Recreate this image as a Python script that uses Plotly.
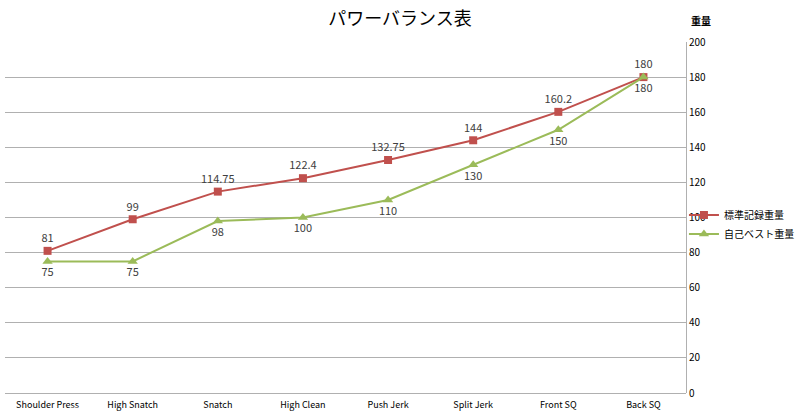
import plotly.graph_objects as go

categories = ["Shoulder Press", "High Snatch", "Snatch", "High Clean", "Push Jerk", "Split Jerk", "Front SQ", "Back SQ"]
standard = [81, 99, 114.75, 122.4, 132.75, 144, 160.2, 180]
personal = [75, 75, 98, 100, 110, 130, 150, 180]
standard_name = "標準記録重量"
personal_name = "自己ベスト重量"

fig = go.Figure()
fig.add_trace(go.Scatter(
    x=categories, y=standard, name=standard_name, mode="lines+markers+text",
    line=dict(color="#C0504D", width=2),
    marker=dict(symbol="square", size=8, color="#C0504D"),
    text=[f"{v:g}" for v in standard], textposition="top center",
    textfont=dict(size=11, color="#404040"),
))
fig.add_trace(go.Scatter(
    x=categories, y=personal, name=personal_name, mode="lines+markers+text",
    line=dict(color="#9BBB59", width=2),
    marker=dict(symbol="triangle-up", size=9, color="#9BBB59"),
    text=[f"{v:g}" for v in personal], textposition="bottom center",
    textfont=dict(size=11, color="#404040"),
))

fig.update_layout(
    width=800, height=418,
    margin=dict(l=5, r=114, t=42, b=25, autoexpand=False),
    paper_bgcolor="white", plot_bgcolor="white",
    font=dict(family="Noto Sans CJK JP, Liberation Sans, sans-serif", size=11, color="#404040"),
    title=dict(text="パワーバランス表", x=0.5, xanchor="center", y=0.955, yanchor="middle",
               font=dict(size=18, color="#000000")),
    showlegend=True,
    legend=dict(x=0.997, xanchor="left", y=0.48, yanchor="middle",
                bgcolor="rgba(0,0,0,0)", font=dict(size=10, color="#000000"),
                itemwidth=30, tracegroupgap=0),
    xaxis=dict(type="category", range=[-0.5, 7.5], showgrid=False, showline=False,
               ticks="", ticklabelstandoff=5, tickfont=dict(size=9, color="#000000")),
    yaxis=dict(side="right", range=[0, 200], dtick=20, showgrid=True,
               gridcolor="#B0B0B0", gridwidth=1, showline=True, linecolor="#B0B0B0",
               linewidth=1, zeroline=True, zerolinecolor="#B0B0B0", zerolinewidth=1,
               ticks="", tickfont=dict(size=10, color="#000000")),
    annotations=[dict(text="<b>重量</b>", xref="paper", yref="paper", x=1.005, y=1.035,
                      xanchor="left", yanchor="bottom", showarrow=False,
                      font=dict(size=10, color="#000000"))],
)

fig.write_html("out.html", config={"displayModeBar": False},
               post_script="document.body.style.margin='0';document.body.style.padding='0';")
